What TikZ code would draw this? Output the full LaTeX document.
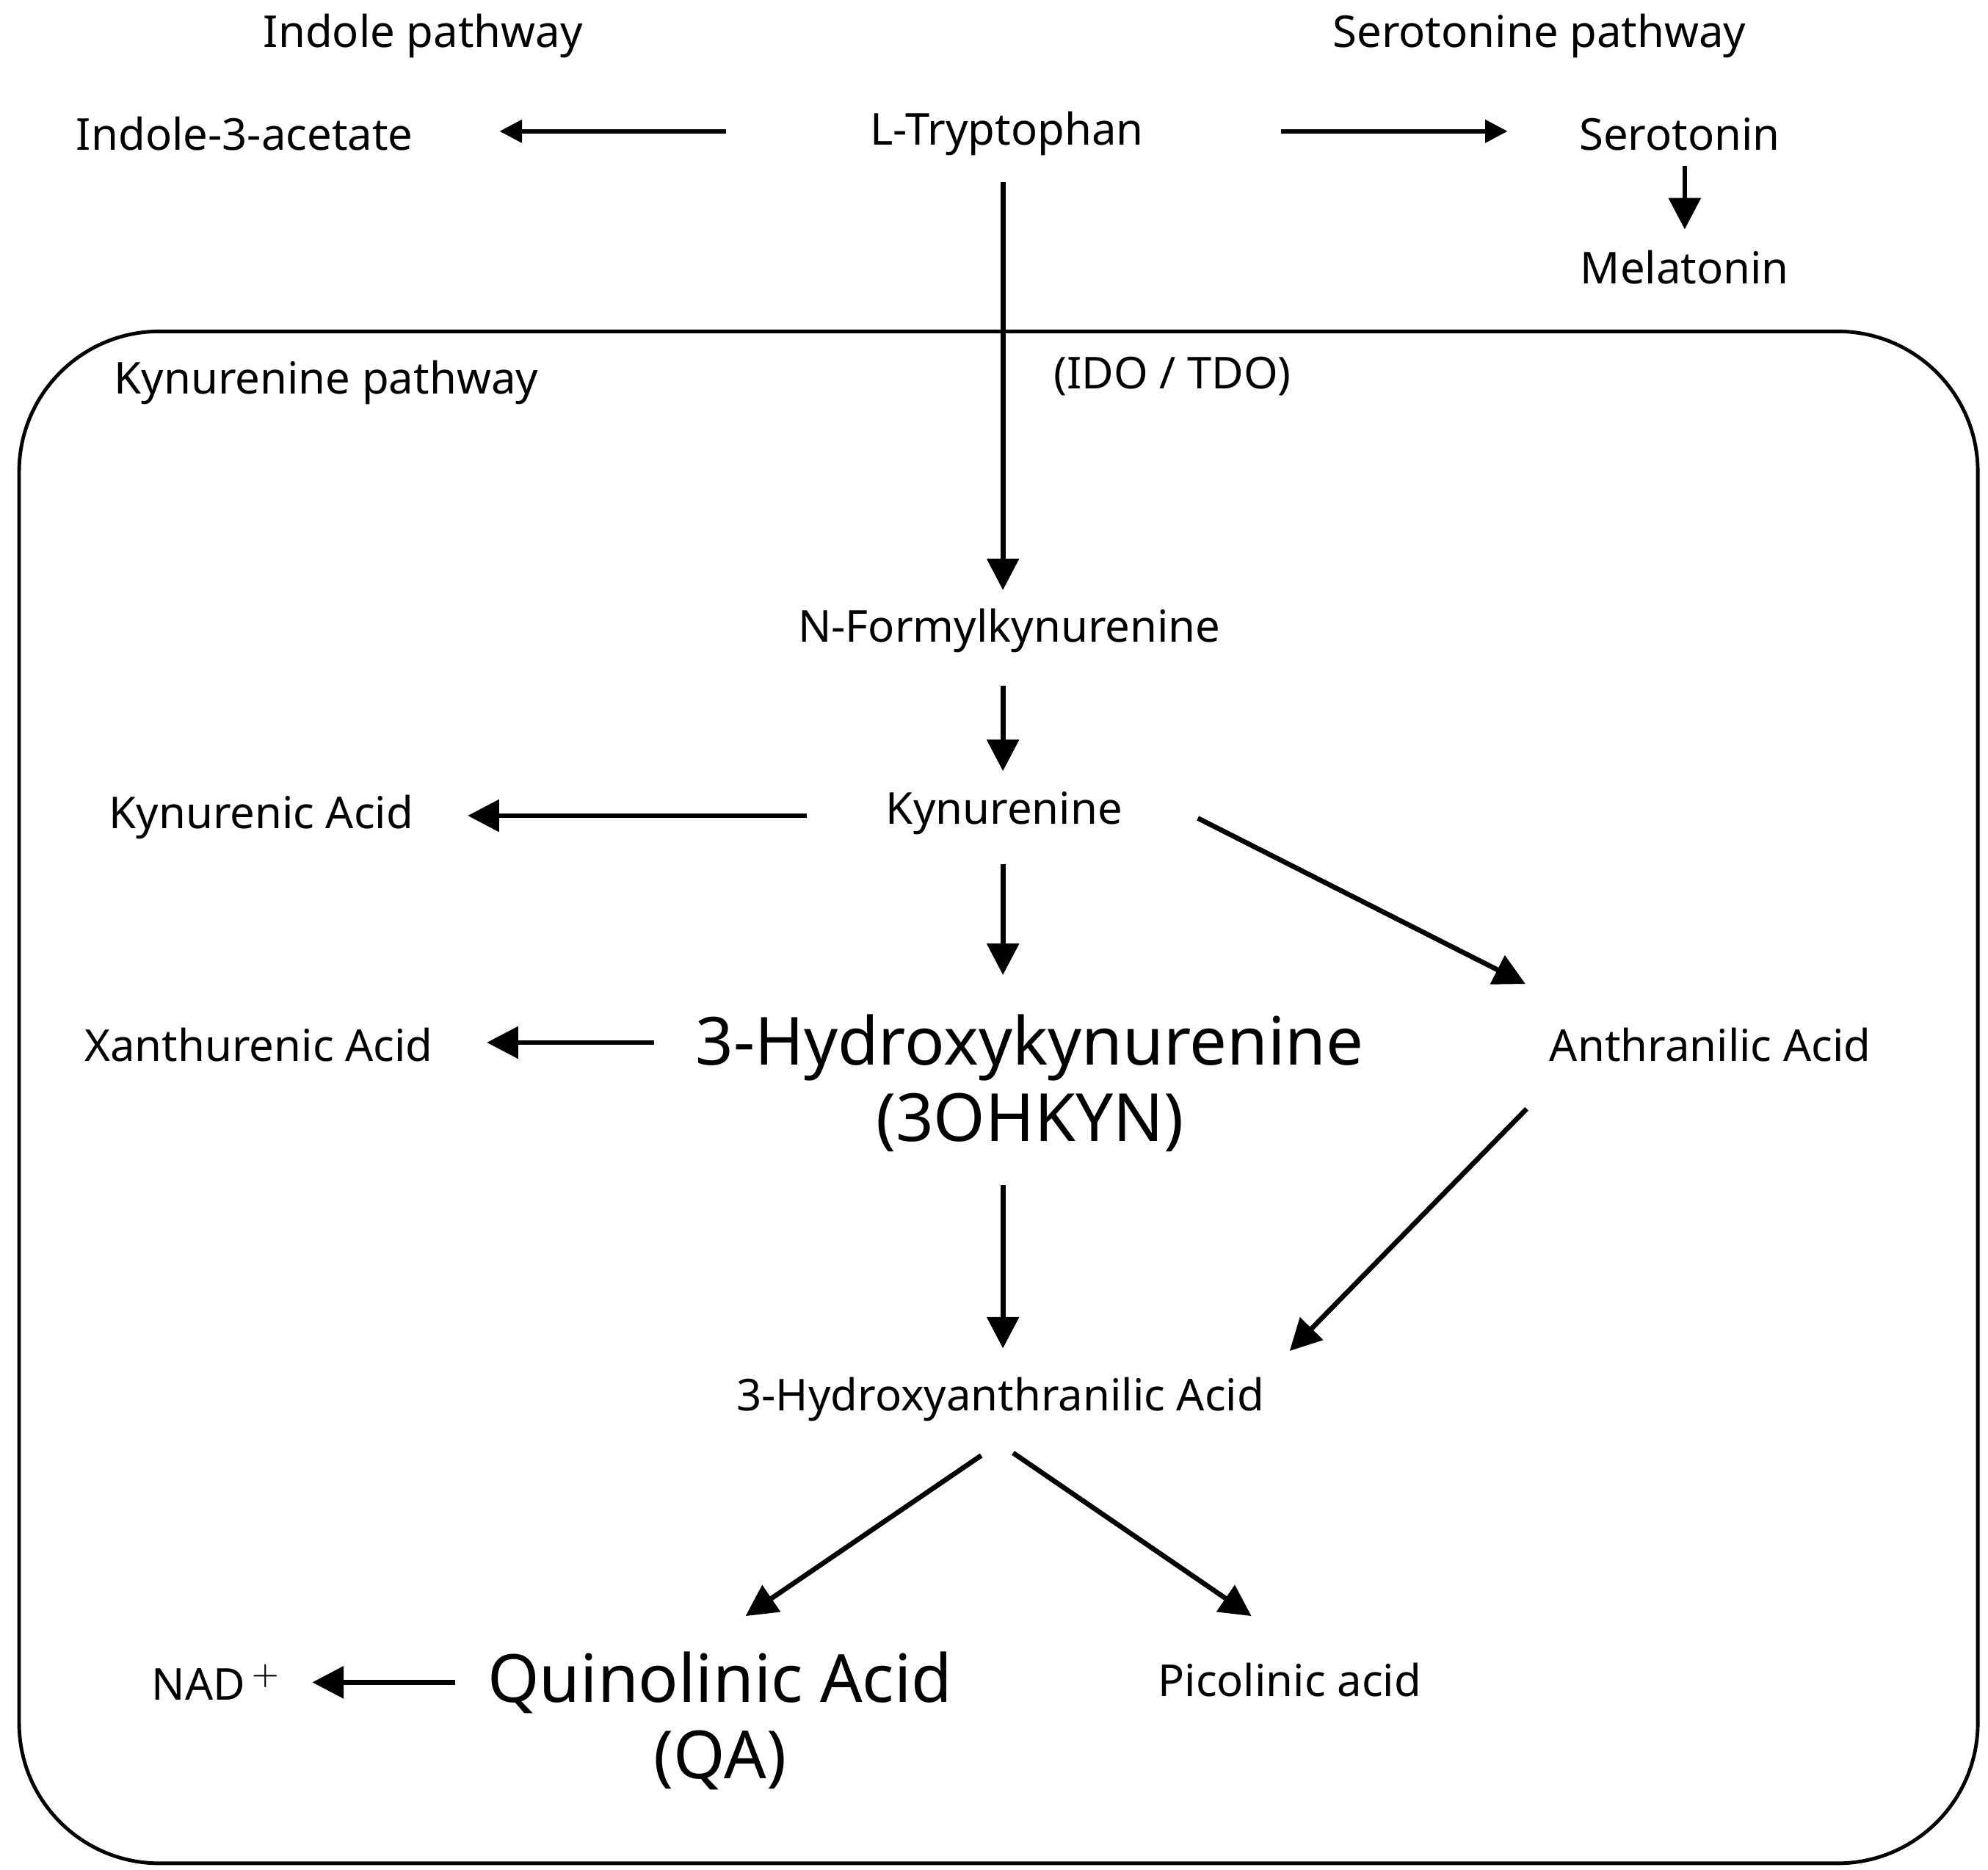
\documentclass[tikz,border=0pt]{standalone}
\usepackage{fontspec}
\setmainfont{Noto Sans}
\usetikzlibrary{arrows.meta}

\begin{document}
\begin{tikzpicture}[x=0.01cm, y=-0.01cm,
  txt/.style={font=\fontsize{9.8}{12}\selectfont, inner sep=0pt},
  big/.style={font=\fontsize{14.8}{17}\selectfont, inner sep=0pt, align=center},
  arr/.style={-{Triangle[length=7pt,width=7pt]}, line width=1.1pt},
  arrs/.style={-{Triangle[length=5pt,width=5pt]}, line width=0.9pt}]

\useasboundingbox (0,0) rectangle (1560,1467);

% kynurenine box
\draw[line width=0.8pt, rounded corners=1.1cm] (15,260) rectangle (1552,1462);

\node[txt] (IP) at (332,28) {Indole pathway};
\node[txt] (SP) at (1208,28) {Serotonine pathway};
\node[txt] (KP) at (256,300) {Kynurenine pathway};
\node[txt] (IDO) at (920,295) {(IDO / TDO)};

\node[txt] (IAA) at (192,105) {Indole-3-acetate};
\node[txt] (TRP) at (790,105) {L-Tryptophan};
\node[txt] (SER) at (1318,105) {Serotonin};
\node[txt] (MEL) at (1322,210) {Melatonin};

\node[txt] (NFK) at (792,495) {N-Formylkynurenine};
\node[txt] (KYN) at (788,638) {Kynurenine};
\node[txt] (KA) at (205,641) {Kynurenic Acid};
\node[big] (HK) at (808,850) {3-Hydroxykynurenine\\(3OHKYN)};
\node[txt] (XA) at (203,820) {Xanthurenic Acid};
\node[txt] (AA) at (1342,820) {Anthranilic Acid};
\node[txt] (HAA) at (785,1098) {3-Hydroxyanthranilic Acid};
\node[big] (QA) at (565,1350) {Quinolinic Acid\\(QA)};
\node[txt] (PA) at (1012,1318) {Picolinic acid};
\node[txt] (NAD) at (170,1320) {NAD$^{\,+}$};

% arrow ends
\coordinate (t1) at (570,103);  \coordinate (i1) at (392,103);
\coordinate (t2) at (1005,103); \coordinate (s1) at (1183,103);
\coordinate (s2) at (1322,130); \coordinate (m1) at (1322,180);
\coordinate (t3) at (787,143);  \coordinate (n1) at (787,463);
\coordinate (n2) at (787,538);  \coordinate (k1) at (787,605);
\coordinate (k2) at (633,640);  \coordinate (ka) at (367,640);
\coordinate (k3) at (787,678);  \coordinate (h1) at (787,765);
\coordinate (k4) at (940,642);  \coordinate (a1) at (1197,772);
\coordinate (h2) at (513,818);  \coordinate (x1) at (382,818);
\coordinate (h3) at (787,930);  \coordinate (q1) at (787,1058);
\coordinate (a2) at (1198,870); \coordinate (q2) at (1012,1060);
\coordinate (q3) at (770,1142); \coordinate (qa) at (585,1268);
\coordinate (q4) at (795,1140); \coordinate (p1) at (982,1268);
\coordinate (qa2) at (357,1320); \coordinate (nd) at (245,1320);

\draw[arrs] (t1) -- (i1);
\draw[arrs] (t2) -- (s1);
\draw[arr] (s2) -- (m1);
\draw[arr] (t3) -- (n1);
\draw[arr] (n2) -- (k1);
\draw[arr] (k2) -- (ka);
\draw[arr] (k3) -- (h1);
\draw[arr] (k4) -- (a1);
\draw[arr] (h2) -- (x1);
\draw[arr] (h3) -- (q1);
\draw[arr] (a2) -- (q2);
\draw[arr] (q3) -- (qa);
\draw[arr] (q4) -- (p1);
\draw[arr] (qa2) -- (nd);
\end{tikzpicture}
\end{document}
